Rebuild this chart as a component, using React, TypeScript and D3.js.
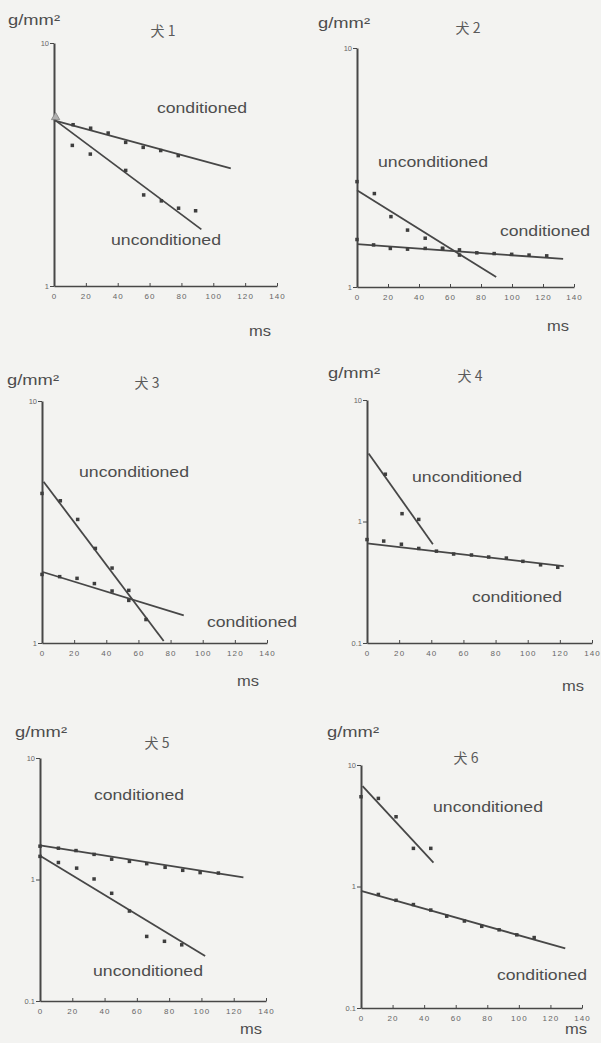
import { useEffect, useRef } from 'react';
import * as d3 from 'd3';

type Pt = [number, number];

// x axis (ms) and y axis (g/mm²) ticks
const xTicks = [0, 20, 40, 60, 80, 100, 120, 140];
const yTicksOne = [1, 10];
const yTicksTwo = [0.1, 1, 10];

const titles = ['犬 1', '犬 2', '犬 3', '犬 4', '犬 5', '犬 6'];

// dog 1
const dog1Cond: Pt[] = [[12, 4.61], [23, 4.46], [34, 4.26], [45, 3.9], [56, 3.72], [67, 3.61], [78, 3.44]];
const dog1Uncond: Pt[] = [[11.5, 3.79], [22.8, 3.49], [45, 2.99], [56.3, 2.37], [67.4, 2.24], [78.2, 2.09], [88.9, 2.04]];
const dog1CondFit: Pt[] = [[0, 4.8], [111, 3.05]];
const dog1UncondFit: Pt[] = [[0, 4.85], [92.5, 1.71]];

// dog 2
const dog2Cond: Pt[] = [[0, 1.58], [10.7, 1.5], [21.5, 1.45], [32.6, 1.44], [44, 1.45], [55.2, 1.45], [66.1, 1.43], [77.3, 1.39], [88.5, 1.38], [99.8, 1.37], [111, 1.36], [122.4, 1.35]];
const dog2Uncond: Pt[] = [[0, 2.76], [11.2, 2.46], [21.9, 1.97], [32.6, 1.73], [44, 1.6], [55.2, 1.45], [66.1, 1.36]];
const dog2CondFit: Pt[] = [[0, 1.51], [133, 1.31]];
const dog2UncondFit: Pt[] = [[0, 2.54], [89.8, 1.1]];

// dog 3
const dog3Cond: Pt[] = [[0, 1.92], [11, 1.88], [21.8, 1.85], [32.6, 1.76], [43.6, 1.64], [54, 1.5]];
const dog3Uncond: Pt[] = [[0, 4.15], [11.4, 3.87], [22.2, 3.24], [33.2, 2.46], [43.6, 2.04], [54, 1.65], [64.7, 1.25]];
const dog3CondFit: Pt[] = [[0, 1.97], [88.2, 1.3]];
const dog3UncondFit: Pt[] = [[1, 4.64], [75.7, 1.02]];

// dog 4
const dog4Cond: Pt[] = [[0, 0.71], [10.4, 0.69], [21.4, 0.65], [32.2, 0.6], [43.2, 0.57], [53.9, 0.54], [65, 0.53], [75.7, 0.51], [86.7, 0.5], [97, 0.47], [108, 0.44], [118.7, 0.42]];
const dog4Uncond: Pt[] = [[11.4, 2.45], [21.8, 1.16], [32.2, 1.04]];
const dog4CondFit: Pt[] = [[0, 0.66], [122.4, 0.43]];
const dog4UncondFit: Pt[] = [[1, 3.63], [41, 0.65]];

// dog 5
const dog5Cond: Pt[] = [[0, 1.88], [11.4, 1.81], [22.3, 1.73], [33.5, 1.61], [44.4, 1.47], [55.4, 1.41], [66.1, 1.35], [77.5, 1.26], [88.4, 1.19], [99.2, 1.14], [110.5, 1.13]];
const dog5Uncond: Pt[] = [[0, 1.55], [11.4, 1.38], [22.7, 1.24], [33.5, 1.01], [44.4, 0.77], [55.4, 0.55], [66.1, 0.34], [77.1, 0.31], [87.8, 0.29]];
const dog5CondFit: Pt[] = [[0, 1.91], [126, 1.04]];
const dog5UncondFit: Pt[] = [[0, 1.57], [102.3, 0.235]];

// dog 6
const dog6Cond: Pt[] = [[11, 0.86], [22.2, 0.77], [33.2, 0.71], [44.2, 0.64], [54.3, 0.57], [65.5, 0.52], [76.5, 0.47], [87.5, 0.44], [98.7, 0.4], [109.7, 0.38]];
const dog6Uncond: Pt[] = [[0, 5.48], [11, 5.31], [22.2, 3.75], [33.2, 2.06], [44.2, 2.06]];
const dog6CondFit: Pt[] = [[0, 0.92], [129.4, 0.31]];
const dog6UncondFit: Pt[] = [[1, 6.71], [45.9, 1.57]];

const seriesData = [
    { cond: dog1Cond, uncond: dog1Uncond, condFit: dog1CondFit, uncondFit: dog1UncondFit, yTicks: yTicksOne },
    { cond: dog2Cond, uncond: dog2Uncond, condFit: dog2CondFit, uncondFit: dog2UncondFit, yTicks: yTicksOne },
    { cond: dog3Cond, uncond: dog3Uncond, condFit: dog3CondFit, uncondFit: dog3UncondFit, yTicks: yTicksOne },
    { cond: dog4Cond, uncond: dog4Uncond, condFit: dog4CondFit, uncondFit: dog4UncondFit, yTicks: yTicksTwo },
    { cond: dog5Cond, uncond: dog5Uncond, condFit: dog5CondFit, uncondFit: dog5UncondFit, yTicks: yTicksTwo },
    { cond: dog6Cond, uncond: dog6Uncond, condFit: dog6CondFit, uncondFit: dog6UncondFit, yTicks: yTicksTwo },
];

// page layout of each panel (pixels)
const layout = [
    { x0: 54, x1: 277, yb: 286, yt: 43, unit: [8, 25], title: [163, 30], ms: [260, 331], cond: [202, 108], uncond: [166, 240] },
    { x0: 357, x1: 574, yb: 287, yt: 48, unit: [318, 28], title: [468, 27], ms: [558, 326], cond: [545, 231], uncond: [433, 162] },
    { x0: 42, x1: 267, yb: 643, yt: 401, unit: [7, 385], title: [147, 382], ms: [248, 681], cond: [252, 622], uncond: [134, 472] },
    { x0: 367, x1: 592, yb: 643, yt: 400, unit: [328, 378], title: [470, 375], ms: [573, 686], cond: [517, 597], uncond: [467, 477] },
    { x0: 40, x1: 266, yb: 1001, yt: 758, unit: [15, 737], title: [157, 742], ms: [251, 1029], cond: [139, 795], uncond: [148, 971] },
    { x0: 361, x1: 582, yb: 1008, yt: 765, unit: [327, 737], title: [466, 757], ms: [576, 1029], cond: [542, 975], uncond: [488, 807] },
];

const INK = '#474747';
const TEXT = '#4d4d4d';
const FONT = '"Liberation Sans", Arial, sans-serif';

export default function App() {
    const ref = useRef<SVGSVGElement>(null);

    useEffect(() => {
        if (!ref.current) return;
        const svg = d3.select(ref.current);
        svg.selectAll('*').remove();

        svg.append('rect').attr('width', 601).attr('height', 1043).attr('fill', '#f3f3f1');

        seriesData.forEach((d, i) => {
            const L = layout[i];
            const yMin = d.yTicks[0];
            const x = d3.scaleLinear().domain([0, 140]).range([L.x0, L.x1]);
            const y = d3.scaleLog().domain([yMin, 10]).range([L.yb, L.yt]);
            const g = svg.append('g');

            // x axis
            const xa = g.append('g')
                .attr('transform', `translate(0,${L.yb})`)
                .call(d3.axisBottom(x).tickValues(xTicks).tickSize(-3).tickSizeOuter(0).tickPadding(7).tickFormat(d3.format('d')));
            xa.select('.domain').attr('stroke', INK).attr('stroke-width', 1.4);
            xa.selectAll('.tick line').attr('stroke', INK).attr('stroke-width', 1);
            xa.selectAll('.tick text')
                .attr('fill', '#666')
                .attr('font-size', 8)
                .attr('letter-spacing', 1.1)
                .attr('font-family', FONT);

            // y axis
            const ya = g.append('g')
                .attr('transform', `translate(${L.x0},0)`)
                .call(d3.axisLeft(y).tickValues(d.yTicks).tickSize(4).tickSizeOuter(0).tickPadding(1).tickFormat(v => String(v)));
            ya.select('.domain').attr('stroke', INK).attr('stroke-width', 2);
            ya.selectAll('.tick line').attr('stroke', INK).attr('stroke-width', 1);
            ya.selectAll('.tick text')
                .attr('fill', '#666')
                .attr('font-size', 7.5)
                .attr('font-family', FONT);

            const line = d3.line<Pt>().x(p => x(p[0])).y(p => y(p[1]));
            [d.condFit, d.uncondFit].forEach(fit => {
                g.append('path')
                    .attr('d', line(fit))
                    .attr('fill', 'none')
                    .attr('stroke', INK)
                    .attr('stroke-width', 1.8);
            });

            [...d.cond, ...d.uncond].forEach(p => {
                g.append('rect')
                    .attr('x', x(p[0]) - 1.75)
                    .attr('y', y(p[1]) - 1.75)
                    .attr('width', 3.5)
                    .attr('height', 3.5)
                    .attr('fill', '#3e3e3e');
            });

            if (i === 0) {
                g.append('path')
                    .attr('d', d3.symbol(d3.symbolTriangle, 30)())
                    .attr('transform', `translate(${x(1)},${y(4.95)})`)
                    .attr('fill', '#b0b0b0')
                    .attr('stroke', '#808080')
                    .attr('stroke-width', 0.8);
            }

            const label = (txt: string, pos: number[], width: number) =>
                g.append('text')
                    .attr('x', pos[0])
                    .attr('y', pos[1])
                    .attr('text-anchor', 'middle')
                    .attr('dominant-baseline', 'central')
                    .attr('font-family', FONT)
                    .attr('font-size', 14)
                    .attr('fill', TEXT)
                    .attr('textLength', width)
                    .attr('lengthAdjust', 'spacingAndGlyphs')
                    .text(txt);

            label('conditioned', L.cond, 90);
            label('unconditioned', L.uncond, 110);
            label('ms', L.ms, 22);

            g.append('text')
                .attr('x', L.unit[0])
                .attr('y', L.unit[1])
                .attr('font-family', FONT)
                .attr('font-size', 14)
                .attr('fill', TEXT)
                .attr('textLength', 52)
                .attr('lengthAdjust', 'spacingAndGlyphs')
                .text('g/mm²');

            g.append('text')
                .attr('x', L.title[0])
                .attr('y', L.title[1])
                .attr('text-anchor', 'middle')
                .attr('dominant-baseline', 'central')
                .attr('font-family', '"Noto Sans CJK JP", sans-serif')
                .attr('font-size', 14)
                .attr('fill', '#5a5a5a')
                .text(titles[i]);
        });
    }, []);

    return (
        <svg ref={ref} width={601} height={1043} style={{ position: 'absolute', left: 0, top: 0 }} />
    );
}
